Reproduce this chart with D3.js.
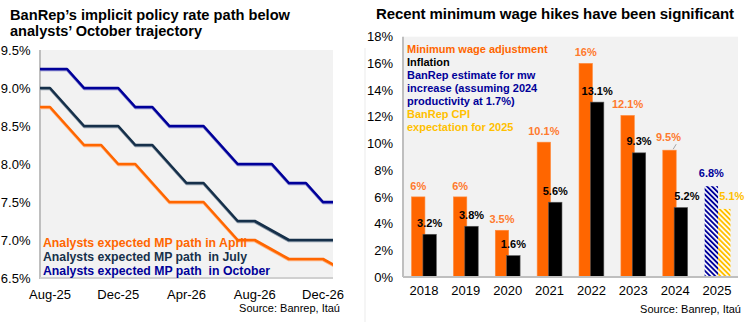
<!DOCTYPE html>
<html>
<head>
<meta charset="utf-8">
<script src="https://cdn.jsdelivr.net/npm/d3@7"></script>
<style>
  html, body { margin: 0; padding: 0; background: #fff; }
  svg { display: block; font-family: "Liberation Sans", Arial, sans-serif; }
</style>
</head>
<body>
<svg id="chart" width="752" height="322"></svg>
<script>
// ---- Policy rate paths (monthly, Jul-25 .. Jan-27) ----
const months = ["Jul-25","Aug-25","Sep-25","Oct-25","Nov-25","Dec-25","Jan-26","Feb-26","Mar-26",
                "Apr-26","May-26","Jun-26","Jul-26","Aug-26","Sep-26","Oct-26","Nov-26","Dec-26","Jan-27"];
const pathApril   = [8.75, 8.75, 8.5, 8.25, 8.25, 8.0, 8.0, 7.75, 7.5, 7.5, 7.5, 7.25, 7.0, 7.0, 6.875, 6.75, 6.75, 6.75, 6.625];
const pathJuly    = [9.0, 9.0, 8.75, 8.5, 8.5, 8.5, 8.25, 8.25, 8.0, 7.75, 7.75, 7.5, 7.25, 7.25, 7.125, 7.0, 7.0, 7.0, 7.0];
const pathOctober = [9.25, 9.25, 9.25, 9.0, 9.0, 9.0, 8.75, 8.75, 8.5, 8.5, 8.5, 8.25, 8.0, 8.0, 8.0, 7.75, 7.75, 7.5, 7.5];
const monthTicks  = ["Aug-25","Dec-25","Apr-26","Aug-26","Dec-26"];
const rateTicks   = [6.5, 7.0, 7.5, 8.0, 8.5, 9.0, 9.5];
const pathNames   = ["Analysts expected MP path in April",
                     "Analysts expected MP path  in July",
                     "Analysts expected MP path  in October"];

// ---- Minimum wage vs inflation ----
const years        = ["2018","2019","2020","2021","2022","2023","2024","2025"];
const minWage      = [6, 6, 3.5, 10.1, 16, 12.1, 9.5];
const minWageText  = ["6%","6%","3.5%","10.1%","16%","12.1%","9.5%"];
const inflation    = [3.2, 3.8, 1.6, 5.6, 13.1, 9.3, 5.2];
const banrepMw     = [6.8];
const banrepCpi    = [5.1];
const pctTicks     = [0, 2, 4, 6, 8, 10, 12, 14, 16, 18];
const wageLegend   = [
  {lines: ["Minimum wage adjustment"], color: "#FF6600"},
  {lines: ["Inflation"], color: "#000000"},
  {lines: ["BanRep estimate for mw", "increase (assuming 2024", "productivity at 1.7%)"], color: "#000099"},
  {lines: ["BanRep CPI", "expectation for 2025"], color: "#FFC000"}
];

const ORANGE = "#FF6600", SLATE = "#16304A", NAVY = "#000099", GOLD = "#FFC000";
const svg = d3.select("#chart");
const defs = svg.append("defs");

function hatch(id, color) {
  defs.append("pattern")
    .attr("id", id).attr("patternUnits", "userSpaceOnUse")
    .attr("width", 3.6).attr("height", 3.6)
    .attr("patternTransform", "rotate(-45)")
    .call(p => {
      p.append("rect").attr("width", 3.6).attr("height", 3.6).attr("fill", "#fff");
      p.append("rect").attr("width", 1.9).attr("height", 3.6).attr("fill", color);
    });
}
hatch("hatchNavy", NAVY);
hatch("hatchGold", GOLD);

// ================= LEFT PANEL =================
const L = {x0: 40, x1: 333, y0: 50, y1: 278};
const edgePad = 0.585;
const xL = d3.scaleLinear()
  .domain([months.indexOf("Aug-25") - edgePad, months.indexOf("Dec-26") + edgePad])
  .range([L.x0, L.x1]);
const yL = d3.scaleLinear().domain([6.5, 9.5]).range([L.y1, L.y0]);

const left = svg.append("g");
left.append("text").attr("x", 10).attr("y", 19.5)
  .attr("font-size", 15).attr("font-weight", "bold")
  .attr("textLength", 280).attr("lengthAdjust", "spacingAndGlyphs")
  .text("BanRep\u2019s implicit policy rate path below");
left.append("text").attr("x", 10).attr("y", 35.5)
  .attr("font-size", 15).attr("font-weight", "bold")
  .attr("textLength", 192).attr("lengthAdjust", "spacingAndGlyphs")
  .text("analysts\u2019 October trajectory");

left.append("rect").attr("x", L.x0).attr("y", L.y0)
  .attr("width", L.x1 - L.x0).attr("height", L.y1 - L.y0).attr("fill", "#F2F2F2");

defs.append("clipPath").attr("id", "clipL").append("rect")
  .attr("x", L.x0).attr("y", L.y0 - 3).attr("width", L.x1 - L.x0).attr("height", L.y1 - L.y0 + 6);

// y axis labels
left.append("g").selectAll("text").data(rateTicks).join("text")
  .attr("x", 30.5).attr("y", d => yL(d)).attr("dy", "0.36em")
  .attr("text-anchor", "end").attr("font-size", 13).attr("fill", "#000")
  .text(d => d3.format(".1f")(d) + "%");

// x axis labels
left.append("g").selectAll("text").data(monthTicks).join("text")
  .attr("x", d => xL(months.indexOf(d))).attr("y", 299)
  .attr("text-anchor", "middle").attr("font-size", 13).attr("fill", "#000")
  .text(d => d);

// axis lines
left.append("line").attr("x1", L.x0).attr("x2", L.x0).attr("y1", L.y0).attr("y2", L.y1 + 1)
  .attr("stroke", "#BFBFBF").attr("stroke-width", 2);
left.append("line").attr("x1", L.x0).attr("x2", L.x1).attr("y1", L.y1).attr("y2", L.y1)
  .attr("stroke", "#D0D0D0").attr("stroke-width", 2);

const lineGen = d3.line().x((d, i) => xL(i)).y(d => yL(d));
const series = [
  {values: pathApril, color: ORANGE, shadow: "#FFB27F"},
  {values: pathJuly, color: SLATE, shadow: "#8A98A8"},
  {values: pathOctober, color: NAVY, shadow: "#8080CC"}
];
const linesG = left.append("g").attr("clip-path", "url(#clipL)");
series.forEach(s => {
  linesG.append("path").attr("d", lineGen(s.values)).attr("fill", "none")
    .attr("stroke", s.shadow).attr("stroke-width", 2.6).attr("transform", "translate(0,1)")
    .attr("stroke-linejoin", "round");
  linesG.append("path").attr("d", lineGen(s.values)).attr("fill", "none")
    .attr("stroke", s.color).attr("stroke-width", 2.6).attr("stroke-linejoin", "round");
});

// legend
const legW = [204, 204, 227];
left.append("g").selectAll("text").data(pathNames).join("text")
  .attr("x", 43).attr("y", (d, i) => 247 + i * 14)
  .attr("xml:space", "preserve")
  .attr("font-size", 13).attr("font-weight", "bold")
  .attr("textLength", (d, i) => legW[i]).attr("lengthAdjust", "spacingAndGlyphs")
  .attr("fill", (d, i) => series[i].color)
  .text(d => d);

left.append("text").attr("x", 340).attr("y", 312).attr("text-anchor", "end")
  .attr("font-size", 11).attr("fill", "#000").text("Source: Banrep, Ita\u00fa");

// faint panel divider
svg.append("line").attr("x1", 365).attr("x2", 365).attr("y1", 48).attr("y2", 322)
  .attr("stroke", "#EBEBEB").attr("stroke-width", 1);

// ================= RIGHT PANEL =================
const R = {x0: 403, x1: 738, y0: 36.7, y1: 277};
const xR = d3.scaleBand().domain(years).range([R.x0, R.x1]);
const yR = d3.scaleLinear().domain([0, 18]).range([R.y1, R.y0]);
const cx = y => xR(y) + xR.bandwidth() / 2;
const barW = xR.bandwidth() * 0.32;

const right = svg.append("g");
right.append("text").attr("x", 376).attr("y", 19)
  .attr("font-size", 15).attr("font-weight", "bold")
  .attr("textLength", 358).attr("lengthAdjust", "spacing")
  .text("Recent minimum wage hikes have been significant");

right.append("rect").attr("x", R.x0).attr("y", R.y0)
  .attr("width", R.x1 - R.x0).attr("height", R.y1 - R.y0).attr("fill", "#F2F2F2");

right.append("g").selectAll("text").data(pctTicks).join("text")
  .attr("x", 393).attr("y", d => yR(d)).attr("dy", "0.36em")
  .attr("text-anchor", "end").attr("font-size", 13).attr("fill", "#000")
  .text(d => d + "%");

right.append("g").selectAll("text").data(years).join("text")
  .attr("x", d => cx(d)).attr("y", 295)
  .attr("text-anchor", "middle").attr("font-size", 13).attr("fill", "#000")
  .text(d => d);

// legend (as text block)
let li = 0;
const legendG = right.append("g");
wageLegend.forEach(item => {
  item.lines.forEach(t => {
    legendG.append("text").attr("x", 407).attr("y", 53 + li * 13)
      .attr("font-size", 11).attr("font-weight", "bold").attr("fill", item.color)
      .text(t);
    li++;
  });
});

const histYears = years.slice(0, minWage.length);
// minimum wage bars
right.append("g").selectAll("rect").data(minWage).join("rect")
  .attr("x", (d, i) => cx(histYears[i]) - barW + 1)
  .attr("y", d => yR(d)).attr("width", barW).attr("height", d => yR(0) - yR(d))
  .attr("fill", ORANGE).attr("stroke", "#FF8A3D").attr("stroke-width", 0.6);
// inflation bars
right.append("g").selectAll("rect").data(inflation).join("rect")
  .attr("x", (d, i) => cx(histYears[i]) - 1)
  .attr("y", d => yR(d)).attr("width", barW).attr("height", d => yR(0) - yR(d))
  .attr("fill", "#000").attr("stroke", "#555").attr("stroke-width", 0.6);

// 2025 hatched estimates
const y25 = years[years.length - 1];
right.append("rect").datum(banrepMw[0])
  .attr("x", cx(y25) - barW + 1).attr("y", d => yR(d))
  .attr("width", barW).attr("height", d => yR(0) - yR(d)).attr("fill", "url(#hatchNavy)");
right.append("rect").datum(banrepCpi[0])
  .attr("x", cx(y25) + 1).attr("y", d => yR(d))
  .attr("width", barW - 1).attr("height", d => yR(0) - yR(d)).attr("fill", "url(#hatchGold)");

// axis lines
right.append("line").attr("x1", R.x0).attr("x2", R.x0).attr("y1", R.y0).attr("y2", R.y1)
  .attr("stroke", "#BFBFBF").attr("stroke-width", 2);
right.append("line").attr("x1", R.x0).attr("x2", R.x1).attr("y1", R.y1).attr("y2", R.y1)
  .attr("stroke", "#BFBFBF").attr("stroke-width", 2);

// value labels
const fmt = d => d3.format(".1f")(d) + "%";
right.append("g").selectAll("text").data(minWage).join("text")
  .attr("x", (d, i) => cx(histYears[i]) - barW / 2 + 1 - (i === 6 ? 1 : 0))
  .attr("y", (d, i) => yR(d) - (i === 6 ? 9 : 7))
  .attr("text-anchor", "middle").attr("font-size", 11).attr("font-weight", "bold")
  .attr("fill", "#FF7A2E").text((d, i) => minWageText[i]);
// short leader for the 2024 label
right.append("line")
  .attr("x1", cx(histYears[6]) - 2).attr("y1", yR(minWage[6]) - 1)
  .attr("x2", cx(histYears[6]) + 1).attr("y2", yR(minWage[6]) - 6)
  .attr("stroke", "#A6A6A6").attr("stroke-width", 1);

right.append("g").selectAll("text").data(inflation).join("text")
  .attr("x", (d, i) => cx(histYears[i]) - 1 + barW / 2 + (i === 6 ? 6 : 0))
  .attr("y", d => yR(d) - 7.5)
  .attr("text-anchor", "middle").attr("font-size", 11).attr("font-weight", "bold")
  .attr("fill", "#000").text(fmt);

right.append("text").datum(banrepMw[0])
  .attr("x", cx(y25) - barW / 2 + 1).attr("y", d => yR(d) - 9)
  .attr("text-anchor", "middle").attr("font-size", 11).attr("font-weight", "bold")
  .attr("fill", NAVY).text(fmt);
right.append("text").datum(banrepCpi[0])
  .attr("x", cx(y25) + barW / 2 + 8).attr("y", d => yR(d) - 9)
  .attr("text-anchor", "middle").attr("font-size", 11).attr("font-weight", "bold")
  .attr("fill", GOLD).text(fmt);

right.append("text").attr("x", 741).attr("y", 313).attr("text-anchor", "end")
  .attr("font-size", 11).attr("fill", "#000").text("Source: Banrep, Ita\u00fa");
</script>
</body>
</html>
